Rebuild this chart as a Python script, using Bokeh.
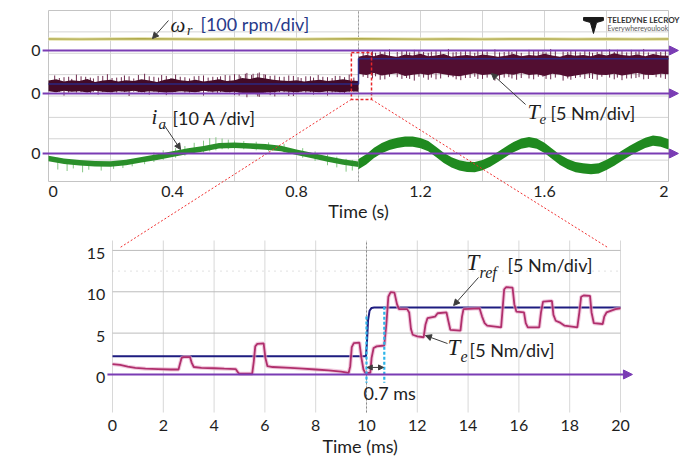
import numpy as np
from bokeh.plotting import figure
from bokeh.models import Label, Arrow, NormalHead, Range1d
from bokeh.core.properties import value
from bokeh.embed import file_html
from bokeh.resources import INLINE

# ------------------------------------------------------------------
# Upper panel: 2 s scope record (speed, torque, phase current)
# ------------------------------------------------------------------
STEP_TIME = 1.0          # s, instant of the torque reference step

SPEED_ZERO = 6.13        # channel zero levels in graticule divisions
TORQUE_ZERO = 4.12
CURRENT_ZERO = 1.31
RPM_PER_DIV = 100.0
NM_PER_DIV = 5.0
A_PER_DIV = 10.0

top_ticks = [0.0, 0.4, 0.8, 1.2, 1.6, 2.0]
top_tick_labels = ["0", "0.4", "0.8", "1.2", "1.6", "2"]

speed_time = [0.0, 0.1, 0.2, 0.3, 0.4, 0.5, 0.6, 0.7, 0.8, 0.9, 1.0,
              1.1, 1.2, 1.3, 1.4, 1.5, 1.6, 1.7, 1.8, 1.9, 2.0]
speed_rpm = [54, 53, 54, 55, 54, 53, 54, 54, 53, 54, 55,
             54, 53, 54, 53, 54, 54, 53, 54, 53, 54]

# electromagnetic torque envelope (Nm), 25 ms samples, before / after the step
torque_hi_pre = [3.0, 3.3, 2.8, 3.1, 2.9, 3.4, 2.7, 3.0, 3.2, 2.8, 3.1, 2.9, 3.3, 3.0,
                 2.7, 3.2, 3.5, 3.1, 2.9, 3.2, 2.8, 3.0, 3.3, 2.9, 3.1, 3.6, 3.4, 3.8,
                 3.5, 3.2, 3.0, 2.9, 3.1, 2.8, 3.0, 3.2, 2.9, 3.1, 3.3, 3.0, 2.9]
torque_lo_pre = [0.5, 0.3, 0.6, 0.4, 0.5, 0.2, 0.6, 0.4, 0.3, 0.5, 0.4, 0.6, 0.3, 0.5,
                 0.4, 0.2, 0.3, 0.5, 0.4, 0.3, 0.6, 0.4, 0.5, 0.3, 0.4, 0.1, 0.0, -0.2,
                 0.2, 0.3, 0.5, 0.4, 0.3, 0.5, 0.4, 0.3, 0.5, 0.4, 0.3, 0.5, 0.4]
torque_hi_post = [8.6, 9.0, 8.7, 9.2, 8.8, 8.5, 9.1, 8.9, 9.3, 8.7, 8.9, 9.2, 8.6, 8.8,
                  9.0, 8.7, 9.1, 8.9, 8.6, 8.8, 9.2, 8.7, 9.0, 8.8, 9.3, 8.9, 8.6, 9.1,
                  8.8, 9.0, 8.7, 9.2, 8.9, 9.4, 9.0, 8.8, 9.1, 8.7, 9.2, 8.9, 8.8]
torque_lo_post = [4.6, 4.3, 4.8, 4.2, 4.5, 4.7, 4.1, 4.4, 4.6, 4.3, 4.8, 4.5, 4.2, 4.0,
                  4.4, 4.7, 4.3, 4.5, 4.2, 4.6, 4.4, 4.8, 4.3, 4.5, 4.1, 4.6, 4.4, 3.9,
                  4.2, 4.5, 4.7, 4.4, 4.3, 4.6, 4.2, 4.5, 4.8, 4.4, 4.3, 4.6, 4.5]

# torque noise spikes (time s, low Nm, high Nm)
torque_spike_t = [0.02, 0.05, 0.09, 0.12, 0.16, 0.19, 0.22, 0.26, 0.29, 0.31, 0.34, 0.38,
                  0.41, 0.44, 0.47, 0.50, 0.53, 0.57, 0.60, 0.62, 0.64, 0.66, 0.68, 0.70,
                  0.73, 0.76, 0.79, 0.83, 0.87, 0.90, 0.94, 0.97,
                  0.035, 0.065, 0.075, 0.105, 0.135, 0.145, 0.175, 0.205, 0.235, 0.245,
                  0.275, 0.325, 0.355, 0.365, 0.395, 0.425, 0.455, 0.485, 0.515, 0.545,
                  0.555, 0.585, 0.615, 0.635, 0.655, 0.675, 0.695, 0.715, 0.745, 0.775,
                  0.805, 0.815, 0.845, 0.855, 0.885, 0.915, 0.925, 0.955, 0.985,
                  1.03, 1.07, 1.10, 1.14, 1.18, 1.21, 1.25, 1.29, 1.33, 1.36, 1.40, 1.44,
                  1.47, 1.51, 1.55, 1.58, 1.62, 1.66, 1.70, 1.73, 1.77, 1.81, 1.85, 1.88,
                  1.92, 1.96, 1.99,
                  1.015, 1.045, 1.055, 1.085, 1.125, 1.155, 1.165, 1.195, 1.225, 1.235,
                  1.265, 1.305, 1.315, 1.345, 1.375, 1.385, 1.415, 1.455, 1.485, 1.495,
                  1.525, 1.565, 1.595, 1.605, 1.635, 1.675, 1.685, 1.715, 1.745, 1.755,
                  1.785, 1.825, 1.835, 1.865, 1.895, 1.905, 1.935, 1.975]
torque_spike_lo = [0.3, -0.5, 0.2, 0.4, -0.3, 0.3, 0.2, -0.6, 0.3, 0.2, 0.4, -0.4,
                   0.3, 0.2, 0.3, -0.5, 0.2, 0.3, -0.4, 0.2, -0.9, 0.1, -0.8, 0.2,
                   -0.7, 0.3, -0.6, 0.2, 0.3, -0.5, 0.2, 0.3,
                   0.4, 0.2, 0.5, 0.3, 0.1, 0.4, 0.3, 0.2, 0.5, 0.3,
                   0.4, -0.3, 0.2, 0.4, 0.3, 0.5, 0.2, 0.3, 0.4, 0.1,
                   0.3, 0.2, -0.5, 0.3, 0.1, -0.7, 0.2, -0.4, 0.3, -0.6,
                   0.2, 0.4, 0.3, -0.3, 0.4, 0.2, 0.3, 0.1, 0.4,
                   3.6, 3.2, 3.9, 3.4, 3.0, 3.7, 3.3, 3.8, 3.1, 3.6, 3.4, 3.0,
                   3.7, 3.2, 3.5, 3.9, 3.3, 3.0, 3.6, 3.4, 3.2, 3.7, 3.1, 3.5,
                   3.3, 3.8, 3.4,
                   3.9, 3.5, 4.0, 3.3, 3.8, 3.6, 3.4, 3.9, 3.2, 3.7,
                   3.5, 3.8, 3.3, 3.6, 3.9, 3.4, 3.7, 3.2, 3.8, 3.5,
                   3.6, 3.3, 3.9, 3.4, 3.7, 3.5, 3.2, 3.8, 3.6, 3.4,
                   3.9, 3.3, 3.7, 3.5, 3.6, 3.8, 3.4, 3.7]
torque_spike_hi = [4.2, 3.8, 4.4, 3.9, 4.1, 4.5, 3.7, 4.0, 4.3, 4.6, 3.9, 4.1,
                   4.4, 3.8, 4.0, 4.2, 3.9, 4.3, 4.5, 4.0, 4.8, 4.6, 4.9, 4.4,
                   4.2, 3.9, 4.1, 4.0, 4.3, 3.8, 4.1, 4.4,
                   3.6, 3.9, 3.4, 4.0, 3.7, 3.5, 4.1, 3.6, 3.8, 4.2,
                   3.5, 4.0, 3.7, 4.3, 3.6, 3.9, 3.5, 4.1, 3.7, 3.8,
                   4.0, 4.2, 4.4, 4.6, 4.3, 4.7, 4.5, 4.1, 3.9, 4.2,
                   3.8, 3.6, 4.0, 3.7, 3.9, 3.6, 4.1, 3.8, 3.7,
                   10.1, 9.8, 10.3, 9.9, 10.2, 9.7, 10.0, 10.4, 9.8, 10.1, 9.9, 10.3,
                   9.7, 10.0, 10.2, 9.9, 10.4, 9.8, 10.1, 10.0, 9.7, 10.3, 9.9, 10.2,
                   10.4, 9.8, 10.0,
                   9.6, 9.9, 9.5, 9.8, 9.7, 10.0, 9.6, 9.9, 9.5, 9.8,
                   10.1, 9.6, 9.7, 9.9, 9.5, 10.0, 9.8, 9.6, 9.9, 9.7,
                   9.5, 10.1, 9.8, 9.6, 9.9, 9.7, 10.0, 9.6, 9.8, 9.5,
                   9.9, 9.7, 10.2, 9.6, 9.8, 9.9, 9.6, 9.7]

torque_ref_time = [0.0, STEP_TIME, STEP_TIME, 2.0]
torque_ref_nm = [2.2, 2.2, 8.1, 8.1]

# phase current centre line (A), 50 ms samples before the step, 25 ms after
current_t_pre = [0.0, 0.05, 0.10, 0.15, 0.20, 0.25, 0.30, 0.35, 0.40, 0.45, 0.50,
                 0.55, 0.60, 0.65, 0.70, 0.75, 0.80, 0.85, 0.90, 0.95, 1.00]
current_a_pre = [-2.3, -3.6, -4.3, -4.8, -4.9, -4.2, -2.9, -1.7, -0.3, 1.1, 2.2,
                 3.6, 3.9, 3.5, 3.1, 2.3, 0.6, -0.9, -2.6, -4.0, -5.0]
current_t_post = [1.000, 1.025, 1.050, 1.075, 1.100, 1.125, 1.150, 1.175, 1.200, 1.225,
                  1.250, 1.275, 1.300, 1.325, 1.350, 1.375, 1.400, 1.425, 1.450, 1.475,
                  1.500, 1.525, 1.550, 1.575, 1.600, 1.625, 1.650, 1.675, 1.700, 1.725,
                  1.750, 1.775, 1.800, 1.825, 1.850, 1.875, 1.900, 1.925, 1.950, 1.975,
                  2.000]
current_a_post = [-5.0, -2.8, 0.3, 2.5, 4.0, 5.0, 5.5, 5.5, 4.8, 3.5,
                  0.8, -2.0, -4.2, -5.6, -6.3, -6.4, -5.4, -3.8, -1.6, 0.8,
                  3.0, 4.6, 5.3, 4.6, 2.6, -0.2, -3.0, -5.0, -6.4, -7.0,
                  -7.3, -7.0, -5.3, -3.3, -1.0, 1.2, 3.2, 5.0, 6.0, 5.6,
                  4.3]
current_halfband_pre = 1.3    # A, ripple half-width
current_halfband_post = 2.4

# current switching spikes before the step (time s, low A, high A)
current_spike_t = [0.03, 0.06, 0.08, 0.11, 0.13, 0.17, 0.21, 0.24, 0.27, 0.31,
                   0.34, 0.37, 0.41, 0.44, 0.47, 0.50, 0.52, 0.54, 0.56, 0.58,
                   0.60, 0.63, 0.67, 0.71, 0.76, 0.82, 0.86, 0.90, 0.93, 0.96, 0.98]
current_spike_lo = [-7.5, -8.2, -7.0, -8.8, -7.6, -8.0, -7.2, -6.8, -6.0, -5.0,
                    -4.0, -3.0, -2.0, -1.0, 0.0, 0.5, 1.0, 1.5, 2.0, 2.0,
                    2.0, 2.0, 1.5, 1.0, 0.5, -2.0, -3.5, -5.5, -6.5, -8.5, -8.0]
current_spike_hi = [-2.0, -3.0, -3.5, -4.0, -4.0, -4.5, -4.5, -3.8, -3.0, -2.0,
                    0.5, 1.5, 2.5, 3.5, 5.0, 6.0, 7.2, 7.6, 7.0, 6.5,
                    6.0, 5.8, 5.5, 5.2, 4.5, 2.5, 1.0, -0.5, -1.5, -2.5, -3.0]

# ------------------------------------------------------------------
# Lower panel: 20 ms detail around the step (Nm)
# ------------------------------------------------------------------
ZOOM_STEP_MS = 10.0
DELAY_MS = 0.7

bot_xticks = [0, 2, 4, 6, 8, 10, 12, 14, 16, 18, 20]
bot_yticks = [0, 5, 10, 15]

tref_ms = [0.0, 9.98, 10.02, 10.06, 10.12, 10.2, 10.3, 20.0]
tref_nm = [2.2, 2.2, 4.0, 6.5, 7.7, 8.05, 8.1, 8.1]

te_ms = [0.0, 0.3, 0.6, 0.9, 1.3, 1.8, 2.3, 2.6, 2.65, 2.72, 2.8, 3.05, 3.12, 3.2, 3.5,
         4.0, 4.4, 4.85, 4.95, 5.0, 5.5, 5.56, 5.62, 5.7, 5.95, 6.02, 6.1, 6.3, 7.0,
         7.5, 8.0, 8.5, 9.0, 9.3, 9.36, 9.42, 9.5, 9.72, 9.8, 9.88, 9.95, 10.15,
         10.2, 10.28, 10.4, 10.7, 10.78, 10.86, 10.95, 11.1, 11.2, 11.28, 11.6, 11.68,
         11.75, 11.82, 12.0, 12.25, 12.32, 12.4, 12.7, 12.8, 13.15, 13.22, 13.3, 13.7,
         13.76, 13.82, 14.45, 14.55, 14.65, 14.75, 15.3, 15.36, 15.42, 15.5, 15.75,
         15.82, 15.9, 16.2, 16.27, 16.35, 16.8, 16.87, 16.95, 17.3, 17.36, 17.45, 17.6,
         17.8, 18.3, 18.38, 18.45, 18.55, 18.8, 18.86, 18.95, 19.3, 19.36, 19.45, 19.8,
         20.0]
te_nm = [1.25, 1.15, 0.95, 0.8, 0.7, 0.65, 0.6, 0.6, 1.2, 2.0, 2.1, 2.1, 1.4, 0.9, 0.8,
         0.75, 0.7, 0.65, 0.2, 0.1, 0.1, 1.5, 3.4, 3.7, 3.75, 2.0, 1.0, 0.9, 0.8,
         0.7, 0.6, 0.5, 0.35, 0.2, 1.0, 3.3, 3.8, 3.85, 2.0, 0.6, 0.2, 0.2,
         2.0, 3.2, 3.4, 3.5, 6.0, 9.4, 9.95, 9.9, 8.5, 7.9, 7.9, 7.5,
         5.5, 4.8, 4.6, 4.5, 6.0, 6.8, 7.0, 7.4, 7.5, 6.5, 5.4, 5.3,
         7.0, 7.9, 8.0, 7.0, 6.2, 5.9, 5.7, 8.0, 10.3, 10.55, 10.5,
         8.5, 7.6, 7.5, 6.2, 5.7, 5.7, 7.5, 8.8, 8.9, 7.2, 6.5, 6.3,
         5.9, 5.7, 7.5, 9.4, 9.55, 9.5, 7.5, 6.2, 6.1, 7.0, 7.5, 7.9,
         8.0]

# ------------------------------------------------------------------
# styling and page geometry
# ------------------------------------------------------------------
SANS = "Lato"
MATH = "Liberation Serif"
ZERO_LINE = "#7a3cb4"
GRID = "#d4d4d4"
TXT = "#1e1e1e"
ARROW = "#3c3c3c"
RED = "#f03030"
LABEL_SIZE = "18px"
TICK_SIZE = "16px"

W, H = 682, 457
# graticule boxes on the page (left, right, top, bottom in px)
TOP_BOX = (48, 668, 10, 181)
BOT_BOX = (112, 620, 240, 412)
TOP_X, TOP_Y = (0.0, 2.0), (0.0, 8.0)
BOT_X, BOT_Y = (0.0, 20.0), (-4.6, 16.2)


def vrange(lo, hi, y_bottom_px, y_top_px, total):
    """Vertical range over the whole page putting lo..hi on the given pixel rows."""
    per_px = (hi - lo) / (y_bottom_px - y_top_px)
    return Range1d(lo - (total - y_bottom_px) * per_px, hi + y_top_px * per_px)


def hrange(lo, hi, x_left_px, x_right_px, total):
    """Horizontal range over the whole page putting lo..hi on the given pixel columns."""
    per_px = (hi - lo) / (x_right_px - x_left_px)
    return Range1d(lo - x_left_px * per_px, lo + (total - x_left_px) * per_px)


def to_div(vals, zero, per_div):
    return zero + np.asarray(vals, dtype=float) / per_div


p = figure(width=W, height=H, output_backend="svg", toolbar_location=None,
           x_axis_location=None, y_axis_location=None,
           x_range=hrange(*TOP_X, TOP_BOX[0], TOP_BOX[1], W),
           y_range=vrange(*TOP_Y, TOP_BOX[3], TOP_BOX[2], H),
           min_border=0, min_border_left=0, min_border_right=0,
           min_border_top=0, min_border_bottom=0)
p.extra_x_ranges = {"ms": hrange(*BOT_X, BOT_BOX[0], BOT_BOX[1], W)}
p.extra_y_ranges = {"nm": vrange(*BOT_Y, BOT_BOX[3], BOT_BOX[2], H)}
p.grid.visible = False
p.outline_line_color = None
p.background_fill_color = "white"
p.border_fill_color = "white"

MS = dict(x_range_name="ms", y_range_name="nm")


def txt(x, y, s, size, font=SANS, style="normal", color=TXT, align="left", **kw):
    p.add_layout(Label(x=x, y=y, text=s, text_font=font, text_font_size=size,
                       text_font_style=style, text_color=color,
                       text_baseline="middle", text_align=align, **kw))


def pointer(x0, y0, x1, y1, **kw):
    p.add_layout(Arrow(x_start=x0, y_start=y0, x_end=x1, y_end=y1,
                       line_color=ARROW, line_width=1,
                       end=NormalHead(size=6, fill_color=ARROW, line_color=ARROW), **kw))


def tick_text(xs, ys, labels, align, **kw):
    p.text(x=xs, y=ys, text=labels, text_font=value(SANS), text_font_size=TICK_SIZE,
           text_color=TXT, text_align=align, text_baseline="middle", **kw)


# ------------------------------- upper panel ---------------------------------
grid_t = [round(0.2 * k, 1) for k in range(1, 10)]
p.segment(grid_t, TOP_Y[0], grid_t, TOP_Y[1], line_color=GRID, line_width=1)
grid_d = list(range(1, 8))
p.segment(TOP_X[0], grid_d, TOP_X[1], grid_d, line_color=GRID, line_width=1)
p.quad(left=TOP_X[0], right=TOP_X[1], bottom=TOP_Y[0], top=TOP_Y[1],
       fill_alpha=0, line_color="#c4c4c4", line_width=1)
p.segment(STEP_TIME, TOP_Y[0], STEP_TIME, TOP_Y[1], line_color="#9a9a9a",
          line_dash="2 2", line_width=1)

# axis texts: end labels sit inside the graticule edges
tick_text(top_ticks[:1], [-0.47], top_tick_labels[:1], "left")
tick_text(top_ticks[1:-1], [-0.47] * 4, top_tick_labels[1:-1], "center")
tick_text(top_ticks[-1:], [-0.47], top_tick_labels[-1:], "right")
tick_text([-0.026] * 3, [SPEED_ZERO, TORQUE_ZERO, CURRENT_ZERO], ["0", "0", "0"], "right")
txt(1.0, -1.38, "Time (s)", LABEL_SIZE, align="center")

# speed
sp = to_div(speed_rpm, SPEED_ZERO, RPM_PER_DIV)
p.line(speed_time, sp, line_color="#e8e5b4", line_width=3.5)
p.line(speed_time, sp, line_color="#b0aa4c", line_width=1.4)

# torque band
t_pre = np.linspace(0.0, STEP_TIME, len(torque_hi_pre))
t_post = np.linspace(STEP_TIME, 2.0, len(torque_hi_post))
p.segment(torque_spike_t, to_div(torque_spike_lo, TORQUE_ZERO, NM_PER_DIV),
          torque_spike_t, to_div(torque_spike_hi, TORQUE_ZERO, NM_PER_DIV),
          line_color="#6e2a4e", line_width=1)
p.varea(x=t_pre, y1=to_div(torque_lo_pre, TORQUE_ZERO, NM_PER_DIV),
        y2=to_div(torque_hi_pre, TORQUE_ZERO, NM_PER_DIV), fill_color="#430a27")
p.varea(x=t_post, y1=to_div(torque_lo_post, TORQUE_ZERO, NM_PER_DIV),
        y2=to_div(torque_hi_post, TORQUE_ZERO, NM_PER_DIV), fill_color="#520e31")
p.line(torque_ref_time, to_div(torque_ref_nm, TORQUE_ZERO, NM_PER_DIV),
       line_color="#2a2a8c", line_width=1.5, line_alpha=0.9)

# phase current band
p.segment(current_spike_t, to_div(current_spike_lo, CURRENT_ZERO, A_PER_DIV),
          current_spike_t, to_div(current_spike_hi, CURRENT_ZERO, A_PER_DIV),
          line_color="#86c886", line_width=1)
cp = np.asarray(current_a_pre)
cq = np.asarray(current_a_post)
p.varea(x=current_t_pre, y1=to_div(cp - current_halfband_pre, CURRENT_ZERO, A_PER_DIV),
        y2=to_div(cp + current_halfband_pre, CURRENT_ZERO, A_PER_DIV), fill_color="#2a8f2a")
p.varea(x=current_t_post, y1=to_div(cq - current_halfband_post, CURRENT_ZERO, A_PER_DIV),
        y2=to_div(cq + current_halfband_post, CURRENT_ZERO, A_PER_DIV), fill_color="#1f8a1f")

# zero references with arrow heads
for z in (SPEED_ZERO, TORQUE_ZERO, CURRENT_ZERO):
    p.add_layout(Arrow(x_start=-0.019, y_start=z, x_end=2.032, y_end=z,
                       line_color=ZERO_LINE, line_width=2,
                       end=NormalHead(size=9, fill_color=ZERO_LINE, line_color=ZERO_LINE)))

# zoom window
ZOOM_BOX = (0.977, 1.042, 3.84, 6.03)   # t0, t1, bottom div, top div
p.quad(left=[ZOOM_BOX[0]], right=[ZOOM_BOX[1]], bottom=[ZOOM_BOX[2]], top=[ZOOM_BOX[3]],
       fill_alpha=0, line_color="#e8262a", line_width=1.5, line_dash="3 2")

# channel labels
txt(0.3935, 7.345, "ω", "21px", MATH, "italic")
txt(0.447, 7.06, "r", "14px", MATH, "italic")
txt(0.490, 7.39, "[100 rpm/div]", LABEL_SIZE, color="#27398a")
pointer(0.387, 7.532, 0.3355, 6.69)

txt(0.332, 3.04, "i", "21px", MATH, "italic")
txt(0.355, 2.667, "a", "15px", MATH, "italic")
txt(0.40, 2.994, "[10 A /div]", LABEL_SIZE)
pointer(0.374, 2.62, 0.426, 1.497)

txt(1.545, 3.275, "T", "22px", MATH, "italic")
txt(1.584, 2.947, "e", "15px", MATH, "italic")
txt(1.619, 3.228, "[5 Nm/div]", LABEL_SIZE)
pointer(1.539, 3.602, 1.429, 5.053)

# instrument logo
p.patch([1.726, 1.790, 1.790, 1.768, 1.758, 1.748, 1.726],
        [7.673, 7.673, 7.532, 7.439, 6.924, 7.439, 7.532], fill_color="#1a1a1a",
        line_color="#1a1a1a")
txt(1.803, 7.56, "TELEDYNE LECROY", "8px", SANS, "bold", "#333333")
txt(1.803, 7.17, "Everywhereyoulook", "7px", SANS, "normal", "#555555")

# ------------------------------- lower panel ---------------------------------
p.segment(bot_xticks, BOT_Y[0], bot_xticks, BOT_Y[1], line_color="#d8d8d8",
          line_width=1, **MS)
p.segment(BOT_X[0], bot_yticks, BOT_X[1], bot_yticks, line_color="#bdbdbd",
          line_width=1, **MS)
p.segment(BOT_X[0], 12.5, BOT_X[1], 12.5, line_color="#c4c4c4", line_dash="1 5",
          line_width=1, **MS)
p.segment(ZOOM_STEP_MS, BOT_Y[0], ZOOM_STEP_MS, BOT_Y[1], line_color="#8a8a8a",
          line_dash="2 2", line_width=1, **MS)

tick_text(bot_xticks, [-6.2] * len(bot_xticks), [str(t) for t in bot_xticks], "center", **MS)
tick_text([-0.28] * len(bot_yticks), [v - 0.35 for v in bot_yticks],
          [str(v) for v in bot_yticks], "right", **MS)
txt(9.75, -8.7, "Time (ms)", LABEL_SIZE, align="center", **MS)

p.line(tref_ms, tref_nm, line_color="#1e1c80", line_width=2, **MS)
p.line(te_ms, te_nm, line_color="#e7a9c9", line_width=4, line_alpha=0.6, **MS)
p.line(te_ms, te_nm, line_color="#b02f6c", line_width=1.8, **MS)

p.add_layout(Arrow(x_start=-0.2, y_start=0, x_end=20.47, y_end=0,
                   line_color=ZERO_LINE, line_width=2,
                   end=NormalHead(size=9, fill_color=ZERO_LINE, line_color=ZERO_LINE), **MS))

# response delay markers
p.segment([ZOOM_STEP_MS, ZOOM_STEP_MS + DELAY_MS], [7.0, 8.2],
          [ZOOM_STEP_MS, ZOOM_STEP_MS + DELAY_MS], [-1.0, -1.0],
          line_color="#2db4e8", line_width=2.2, line_dash="3 2", **MS)
p.add_layout(Arrow(x_start=ZOOM_STEP_MS + 0.03, y_start=0.85,
                   x_end=ZOOM_STEP_MS + DELAY_MS - 0.03, y_end=0.85,
                   line_color=ARROW, line_width=1,
                   start=NormalHead(size=5, fill_color=ARROW, line_color=ARROW),
                   end=NormalHead(size=5, fill_color=ARROW, line_color=ARROW), **MS))
txt(9.88, -2.3, f"{DELAY_MS} ms", LABEL_SIZE, **MS)

txt(13.94, 13.54, "T", "23px", MATH, "italic", **MS)
txt(14.45, 12.33, "ref", "16px", MATH, "italic", **MS)
txt(15.55, 13.18, "[5 Nm/div]", LABEL_SIZE, **MS)
pointer(14.41, 11.73, 13.43, 8.34, **MS)

txt(13.19, 3.26, "T", "23px", MATH, "italic", **MS)
txt(13.70, 2.17, "e", "16px", MATH, "italic", **MS)
txt(14.06, 2.90, "[5 Nm/div]", LABEL_SIZE, **MS)
pointer(13.19, 3.74, 12.32, 4.71, **MS)

# ------------------------ zoom connectors between panels ---------------------
xr_top, yr_top = p.x_range, p.y_range
xr_ms, yr_nm = p.extra_x_ranges["ms"], p.extra_y_ranges["nm"]


def ms_to_top(t_ms, v_nm):
    fx = (t_ms - xr_ms.start) / (xr_ms.end - xr_ms.start)
    fy = (v_nm - yr_nm.start) / (yr_nm.end - yr_nm.start)
    return (xr_top.start + fx * (xr_top.end - xr_top.start),
            yr_top.start + fy * (yr_top.end - yr_top.start))


for box_t, corner_t in ((ZOOM_BOX[0], 0.3), (ZOOM_BOX[1], 19.5)):
    cx, cy = ms_to_top(corner_t, 15.35)
    p.segment(box_t, ZOOM_BOX[2], cx, cy, line_color=RED, line_width=1, line_dash="2 2")

open("out.html", "w").write(file_html(p, INLINE))
